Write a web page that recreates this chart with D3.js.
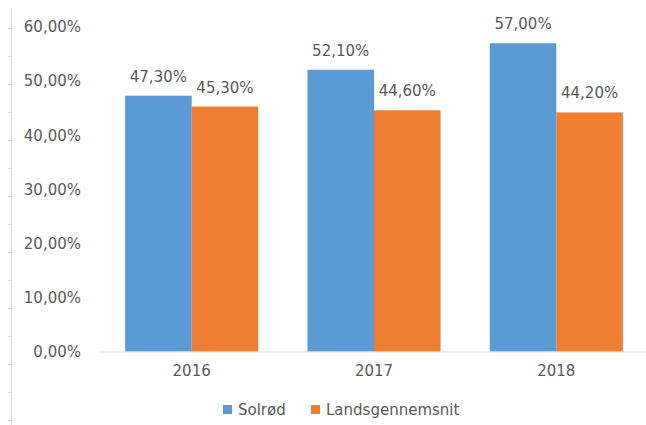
<!DOCTYPE html>
<html>
<head>
<meta charset="utf-8">
<script src="https://cdn.jsdelivr.net/npm/d3@7"></script>
<style>
  body { margin: 0; background: #fff; }
  svg { display: block; font-family: "DejaVu Sans", sans-serif; }
</style>
</head>
<body>
<svg id="chart" width="646" height="425"></svg>
<script>
// data
const years = ["2016", "2017", "2018"];
const seriesNames = ["Solrød", "Landsgennemsnit"];
const solrod = [47.3, 52.1, 57.0];
const landsgennemsnit = [45.3, 44.6, 44.2];
const yTicks = [0, 10, 20, 30, 40, 50, 60];
const colors = ["#5B9BD5", "#ED7D31"];

const fmt = v => v.toFixed(2).replace(".", ",") + "%";

const svg = d3.select("#chart");

const x = d3.scaleBand()
    .domain(years)
    .range([100.5, 647.5])
    .paddingInner(0.27)
    .paddingOuter(0.135);

const xs = d3.scaleBand()
    .domain(seriesNames)
    .range([0, x.bandwidth()]);

const y = d3.scaleLinear()
    .domain([0, 60])
    .range([351.5, 27]);

// left frame remnant with little ticks
svg.append("line")
    .attr("x1", 11.5).attr("x2", 11.5)
    .attr("y1", 8).attr("y2", 425)
    .attr("stroke", "#d9d9d9");
svg.selectAll(".frameTick")
    .data(d3.range(28, 425, 28))
    .enter().append("line")
    .attr("class", "frameTick")
    .attr("x1", 8).attr("x2", 11)
    .attr("y1", d => d + 0.5).attr("y2", d => d + 0.5)
    .attr("stroke", "#d9d9d9");

// y tick labels
svg.selectAll(".ylab")
    .data(yTicks)
    .enter().append("text")
    .attr("class", "ylab")
    .attr("x", 81)
    .attr("y", d => y(d))
    .attr("dy", "0.36em")
    .attr("text-anchor", "end")
    .attr("font-size", 15)
    .attr("fill", "#595959")
    .text(d => fmt(d));

// bars
const rows = years.map((yr, i) => ({ year: yr, values: [solrod[i], landsgennemsnit[i]] }));

const groups = svg.selectAll(".grp")
    .data(rows)
    .enter().append("g")
    .attr("class", "grp")
    .attr("transform", d => `translate(${x(d.year)},0)`);

groups.selectAll("rect")
    .data(d => d.values.map((v, k) => ({ name: seriesNames[k], value: v, k: k })))
    .enter().append("rect")
    .attr("x", d => xs(d.name))
    .attr("y", d => y(d.value))
    .attr("width", xs.bandwidth())
    .attr("height", d => y(0) - y(d.value))
    .attr("fill", d => colors[d.k]);

groups.selectAll(".lbl")
    .data(d => d.values.map((v, k) => ({ name: seriesNames[k], value: v })))
    .enter().append("text")
    .attr("class", "lbl")
    .attr("x", d => xs(d.name) + xs.bandwidth() / 2)
    .attr("y", d => y(d.value) - 14)
    .attr("text-anchor", "middle")
    .attr("font-size", 15)
    .attr("fill", "#595959")
    .text(d => fmt(d.value));

// x axis
const xAxis = svg.append("g")
    .attr("transform", `translate(0,${y(0)})`)
    .call(d3.axisBottom(x).tickSize(0).tickPadding(14));
xAxis.select(".domain").attr("stroke", "#d9d9d9").attr("d", "M99,0.5H646");
xAxis.selectAll("text")
    .attr("font-size", 15)
    .attr("font-family", "DejaVu Sans, sans-serif")
    .attr("fill", "#595959");

// legend
const legendX = [223, 311];
const legend = svg.selectAll(".leg")
    .data(seriesNames)
    .enter().append("g")
    .attr("class", "leg")
    .attr("transform", (d, i) => `translate(${legendX[i]},405)`);
legend.append("rect")
    .attr("width", 9).attr("height", 9)
    .attr("fill", (d, i) => colors[i]);
legend.append("text")
    .attr("x", 15)
    .attr("y", 4.5)
    .attr("dy", "0.36em")
    .attr("font-size", 15)
    .attr("fill", "#595959")
    .text(d => d);
</script>
</body>
</html>
